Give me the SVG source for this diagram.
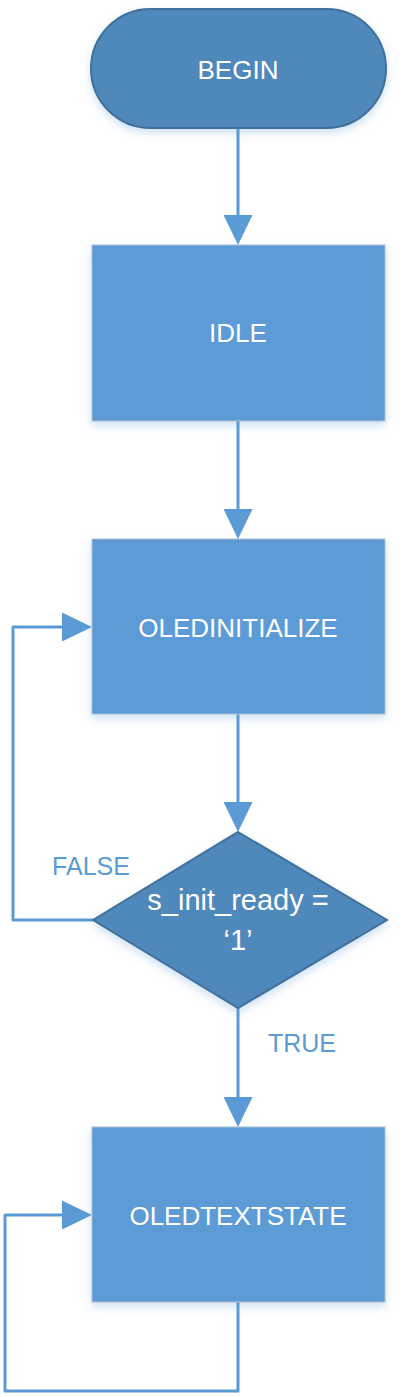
<svg xmlns="http://www.w3.org/2000/svg" width="403" height="1397" viewBox="0 0 403 1397">
<style>
.proc{fill:#5b9bd5;stroke:#aebfd3;stroke-width:1}
.term{fill:#4f88bb;stroke:#41719c;stroke-width:2}
.lbl{font-family:"Liberation Sans",Arial,sans-serif;font-size:26px;fill:#ffffff;text-anchor:middle}
.edge{font-family:"Liberation Sans",Arial,sans-serif;font-size:25px;fill:#5b9bd5;text-anchor:middle}
.conn{fill:none;stroke:#5b9bd5;stroke-width:3;stroke-linejoin:round}
</style>
<defs>
<filter id="sh" x="-20%" y="-20%" width="140%" height="150%">
<feDropShadow dx="0" dy="4" stdDeviation="4" flood-color="#5b9bd5" flood-opacity="0.3"/>
</filter>
<marker id="ah" viewBox="0 0 30 29" refX="0" refY="14.5" markerWidth="30" markerHeight="29" markerUnits="userSpaceOnUse" orient="auto">
<path d="M0,0 L30,14.5 L0,29 z" fill="#5b9bd5"/>
</marker>
</defs>
<g id="connectors">
<path class="conn" d="M238,128 V215" marker-end="url(#ah)"/>
<path class="conn" d="M238,421 V509" marker-end="url(#ah)"/>
<path class="conn" d="M238,714 V802" marker-end="url(#ah)"/>
<path class="conn" d="M238,1008 V1097" marker-end="url(#ah)"/>
<path class="conn" d="M93,920 H13 V627 H62" marker-end="url(#ah)"/>
<path class="conn" d="M238,1302 V1391 H5 V1215 H62" marker-end="url(#ah)"/>
<text class="edge" x="91" y="875">FALSE</text>
<text class="edge" x="302" y="1052">TRUE</text>
</g>
<g id="begin">
<rect class="term" x="91" y="9" width="295" height="119" rx="59.5" ry="59.5" filter="url(#sh)"/>
<text class="lbl" x="238" y="79">BEGIN</text>
</g>
<g id="idle">
<rect class="proc" x="92" y="245" width="293" height="176" filter="url(#sh)"/>
<text class="lbl" x="238" y="342">IDLE</text>
</g>
<g id="oledinitialize">
<rect class="proc" x="92" y="539" width="293" height="175" filter="url(#sh)"/>
<text class="lbl" x="238" y="637">OLEDINITIALIZE</text>
</g>
<g id="decision">
<polygon class="term" points="238,832 387,920 238,1008 93,920" filter="url(#sh)"/>
<text class="lbl" x="238" y="910" style="font-size:29px">s_init_ready =</text>
<text class="lbl" x="238" y="950" style="font-size:29px">‘1’</text>
</g>
<g id="oledtextstate">
<rect class="proc" x="92" y="1127" width="293" height="175" filter="url(#sh)"/>
<text class="lbl" x="238" y="1225">OLEDTEXTSTATE</text>
</g>
</svg>
